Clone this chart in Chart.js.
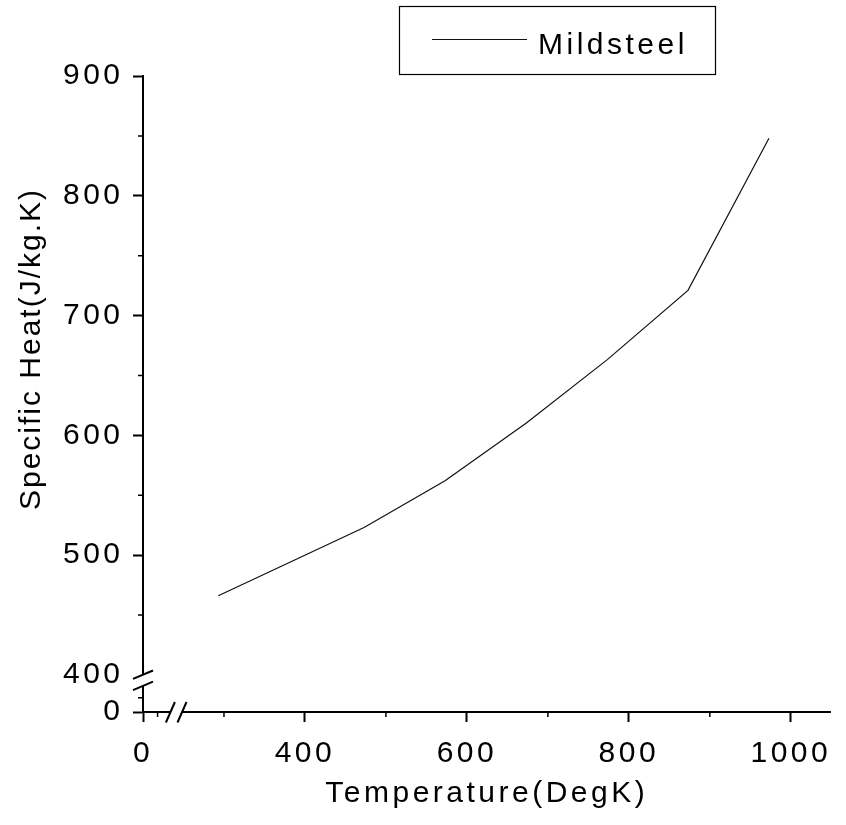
<!DOCTYPE html>
<html lang="en">
<head>
    <meta charset="UTF-8">
    <title>Specific Heat - Mildsteel</title>
    <style>
        body { margin: 0; background: #fff; }
        #heatChart { display: block; }
    </style>
</head>
<body>
    <canvas id="heatChart" width="846" height="825"></canvas>

    <script src="https://cdn.jsdelivr.net/npm/chart.js"></script>
    <script>
        // data
        const seriesLabel = 'Mildsteel';
        const temperatureK = [293, 473, 573, 673, 773, 873, 973];
        const specificHeat = [466, 523, 562, 610, 663, 721, 848];

        // tick labels (both axes are broken between 0 and the first real tick)
        const xTickValues = [0, 400, 600, 800, 1000];
        const yTickValues = [0, 400, 500, 600, 700, 800, 900];
        const xMinorTicks = [300, 500, 700, 900];
        const yMinorTicks = [450, 550, 650, 750, 850];

        const xTitle = 'Temperature(DegK)';
        const yTitle = 'Specific Heat(J/kg.K)';

        // where "0" sits on each broken axis, and where the break marks go
        const xZeroAt = 200, xLowMinor = 218, xBreakAt = 241, xMax = 1049;
        const yZeroAt = 369, yLowMinor = 381, yBreakAt = 395.5, yMax = 900;

        const spacing = '3.5px';
        Chart.defaults.font.family = '"Liberation Sans", Arial, sans-serif';
        Chart.defaults.color = '#000';

        const xPos = v => v === 0 ? xZeroAt : v;
        const yPos = v => v === 0 ? yZeroAt : v;

        // minor ticks, axis breaks, y title and framed legend
        const axisExtras = {
            id: 'axisExtras',
            beforeLayout(chart) { chart.ctx.letterSpacing = spacing; },
            beforeDraw(chart) { chart.ctx.letterSpacing = spacing; },
            afterDraw(chart) {
                const { ctx, chartArea: a, scales: { x, y } } = chart;
                ctx.save();
                ctx.strokeStyle = '#000';
                ctx.lineWidth = 1.5;

                ctx.beginPath();
                [xLowMinor, ...xMinorTicks].forEach(v => {
                    const px = x.getPixelForValue(v);
                    ctx.moveTo(px, a.bottom);
                    ctx.lineTo(px, a.bottom + 5);
                });
                [yLowMinor, ...yMinorTicks].forEach(v => {
                    const py = y.getPixelForValue(v);
                    ctx.moveTo(a.left - 5, py);
                    ctx.lineTo(a.left, py);
                });
                ctx.stroke();

                // break on x axis
                const bx = x.getPixelForValue(xBreakAt);
                ctx.fillStyle = '#fff';
                ctx.fillRect(bx - 5.5, a.bottom - 2, 11, 4);
                ctx.lineWidth = 2;
                ctx.beginPath();
                [-5.8, 5.8].forEach(d => {
                    ctx.moveTo(bx + d - 4.5, a.bottom + 10.5);
                    ctx.lineTo(bx + d + 4.5, a.bottom - 10);
                });
                ctx.stroke();

                // break on y axis
                const by = y.getPixelForValue(yBreakAt);
                ctx.fillRect(a.left - 2, by - 5.5, 4, 11);
                ctx.beginPath();
                [-5.6, 5.6].forEach(d => {
                    ctx.moveTo(a.left - 10, by + d + 4.2);
                    ctx.lineTo(a.left + 10, by + d - 4.2);
                });
                ctx.stroke();

                // y axis title
                ctx.fillStyle = '#000';
                ctx.font = '30px "Liberation Sans", Arial, sans-serif';
                ctx.letterSpacing = '2px';
                ctx.save();
                ctx.translate(32, 349);
                ctx.rotate(-Math.PI / 2);
                ctx.textAlign = 'center';
                ctx.textBaseline = 'middle';
                ctx.fillText(yTitle, 0, 0);
                ctx.restore();

                // legend box
                const ds = chart.data.datasets[0];
                ctx.letterSpacing = spacing;
                ctx.lineWidth = 1.2;
                ctx.strokeRect(399.5, 6.5, 316, 68);
                ctx.strokeStyle = ds.borderColor;
                ctx.lineWidth = ds.borderWidth;
                ctx.beginPath();
                ctx.moveTo(432, 39.5);
                ctx.lineTo(527, 39.5);
                ctx.stroke();
                ctx.textAlign = 'left';
                ctx.textBaseline = 'alphabetic';
                ctx.fillText(ds.label, 538, 54);
                ctx.restore();
            }
        };

        const ctx = document.getElementById('heatChart').getContext('2d');
        new Chart(ctx, {
            type: 'line',
            data: {
                datasets: [{
                    label: seriesLabel,
                    data: temperatureK.map((t, i) => ({ x: t, y: specificHeat[i] })),
                    borderColor: '#111',
                    borderWidth: 1.2,
                    pointRadius: 0,
                    tension: 0,
                    fill: false
                }]
            },
            options: {
                responsive: false,
                animation: false,
                layout: { padding: { top: 76, right: 14, left: 0, bottom: 0 } },
                plugins: {
                    legend: { display: false },
                    tooltip: { enabled: false }
                },
                scales: {
                    x: {
                        type: 'linear',
                        position: 'bottom',
                        min: xZeroAt,
                        max: xMax,
                        afterBuildTicks: s => { s.ticks = xTickValues.map(v => ({ value: xPos(v) })); },
                        afterFit: s => { s.height = 113; },
                        ticks: {
                            autoSkip: false,
                            maxRotation: 0,
                            padding: 14,
                            font: { size: 30 },
                            callback: v => v === xZeroAt ? '0' : String(v)
                        },
                        grid: {
                            drawOnChartArea: false,
                            tickLength: 10,
                            tickWidth: 2,
                            tickColor: '#000'
                        },
                        border: { color: '#000', width: 2 },
                        title: {
                            display: true,
                            text: xTitle,
                            font: { size: 30 },
                            padding: { top: 0, bottom: 13 }
                        }
                    },
                    y: {
                        type: 'linear',
                        min: yZeroAt,
                        max: yMax,
                        afterBuildTicks: s => { s.ticks = yTickValues.map(v => ({ value: yPos(v) })); },
                        afterFit: s => { s.width = 143; },
                        ticks: {
                            autoSkip: false,
                            padding: 9.5,
                            font: { size: 30 },
                            callback: v => v === yZeroAt ? '0' : String(v)
                        },
                        grid: {
                            drawOnChartArea: false,
                            tickLength: 10,
                            tickWidth: 2,
                            tickColor: c => (c.tick && c.tick.value === 400) ? 'rgba(0,0,0,0)' : '#000'
                        },
                        border: { color: '#000', width: 2 }
                    }
                }
            },
            plugins: [axisExtras]
        });
    </script>
</body>
</html>
